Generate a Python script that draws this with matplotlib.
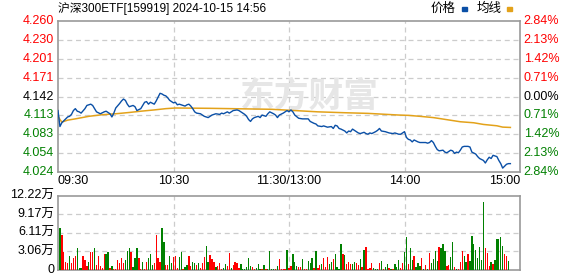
import numpy as np
import matplotlib
matplotlib.use("Agg")
import matplotlib.pyplot as plt
from matplotlib.patches import Rectangle

plt.rcParams['font.family'] = ['Liberation Sans', 'Noto Sans CJK SC']

# ============================= DATOS =================================
titulo = "沪深300ETF[159919] 2024-10-15 14:56"
cierre_ant = 4.142

precio_ticks = [4.260, 4.230, 4.201, 4.171, 4.142, 4.113, 4.083, 4.054, 4.024]
pct_ticks = ["2.84%", "2.13%", "1.42%", "0.71%", "0.00%", "0.71%", "1.42%", "2.13%", "2.84%"]
vol_ticks = [0, 3.06, 6.11, 9.17, 12.22]
vol_labels = ["0", "3.06万", "6.11万", "9.17万", "12.22万"]
hora_labels = ["09:30", "10:30", "11:30/13:00", "14:00", "15:00"]
hora_pos = [0, 60, 120, 180, 240]

# minuto desde 09:30 (sin pausa de mediodia) y precio
min_precio = [0, 1, 2, 4, 5, 6, 7, 8, 9, 10, 11, 12, 14, 15, 17, 18, 19, 20, 22, 24,
              25, 27, 28, 29, 30, 32, 33, 34, 35, 36, 37, 39, 40, 41, 43, 44, 45, 46, 47, 48,
              50, 51, 52, 53, 54, 55, 56, 57, 58, 60, 61, 62, 63, 65, 66, 67, 68, 69, 70, 71,
              72, 74, 75, 76, 78, 79, 80, 81, 82, 84, 85, 86, 88, 89, 90, 91, 93, 94, 95, 97,
              98, 99, 100, 101, 102, 104, 105, 106, 108, 109, 110, 112, 113, 114, 115, 117, 118, 119, 120, 121,
              122, 123, 125, 127, 129, 130, 131, 133, 134, 135, 137, 138, 139, 140, 142, 143, 144, 145, 146, 147,
              149, 150, 151, 152, 153, 155, 156, 157, 159, 160, 161, 162, 163, 165, 166, 167, 168, 170, 171, 172,
              174, 175, 176, 177, 178, 180, 181, 182, 183, 184, 185, 187, 188, 189, 191, 192, 193, 194, 195, 196,
              197, 198, 200, 201, 202, 204, 205, 206, 207, 208, 209, 210, 211, 213, 214, 215, 217, 218, 219, 221,
              222, 223, 224, 225, 226, 228, 229, 230, 231, 232, 233, 234, 235]
precio = [4.120, 4.095, 4.101, 4.107, 4.110, 4.111, 4.114, 4.120, 4.123, 4.119, 4.118, 4.116, 4.123, 4.128, 4.130, 4.128, 4.123, 4.118, 4.115, 4.118,
          4.119, 4.115, 4.110, 4.116, 4.124, 4.131, 4.135, 4.138, 4.136, 4.130, 4.126, 4.128, 4.126, 4.120, 4.123, 4.128, 4.133, 4.134, 4.130, 4.133,
          4.130, 4.135, 4.141, 4.147, 4.146, 4.144, 4.143, 4.140, 4.136, 4.132, 4.133, 4.129, 4.130, 4.128, 4.127, 4.129, 4.130, 4.127, 4.123, 4.118,
          4.116, 4.115, 4.113, 4.111, 4.109, 4.111, 4.113, 4.114, 4.115, 4.114, 4.116, 4.115, 4.118, 4.116, 4.118, 4.120, 4.121, 4.120, 4.118, 4.114,
          4.111, 4.106, 4.103, 4.107, 4.109, 4.111, 4.109, 4.113, 4.111, 4.115, 4.118, 4.115, 4.113, 4.109, 4.113, 4.116, 4.118, 4.120, 4.118, 4.121,
          4.118, 4.113, 4.108, 4.107, 4.107, 4.107, 4.103, 4.100, 4.099, 4.096, 4.095, 4.096, 4.095, 4.094, 4.095, 4.092, 4.097, 4.096, 4.092, 4.091,
          4.088, 4.085, 4.088, 4.087, 4.091, 4.087, 4.085, 4.084, 4.086, 4.084, 4.083, 4.085, 4.084, 4.087, 4.089, 4.092, 4.088, 4.087, 4.086, 4.085,
          4.084, 4.085, 4.084, 4.083, 4.083, 4.087, 4.078, 4.075, 4.074, 4.071, 4.074, 4.071, 4.070, 4.070, 4.070, 4.069, 4.070, 4.073, 4.070, 4.064,
          4.059, 4.057, 4.058, 4.055, 4.054, 4.058, 4.057, 4.053, 4.055, 4.054, 4.058, 4.063, 4.064, 4.064, 4.063, 4.055, 4.052, 4.048, 4.045, 4.042,
          4.038, 4.043, 4.047, 4.045, 4.050, 4.048, 4.042, 4.037, 4.030, 4.033, 4.036, 4.037, 4.037]

min_media = [0, 1, 2, 5, 9, 16, 23, 30, 37, 43, 50, 56, 61, 79, 111, 120, 135, 149, 161, 177,
             182, 188, 195, 200, 209, 216, 221, 228, 231, 235]
media = [4.112, 4.106, 4.102, 4.105, 4.107, 4.111, 4.1135, 4.115, 4.117, 4.119, 4.121, 4.123, 4.124, 4.1235, 4.122, 4.1205, 4.118, 4.1166, 4.1156, 4.113,
         4.1125, 4.111, 4.109, 4.1067, 4.1025, 4.1009, 4.0983, 4.0962, 4.0941, 4.0936]

# volumen (万) por minuto, 'r' sube / 'g' baja
volumen = [6.9, 5.8, 3.0, 1.4, 1.2, 2.3, 1.1, 1.9, 2.3, 3.7, 0.4, 0.4, 2.3, 1.7, 0.7, 1.4, 3.0, 3.0, 3.6, 0.8,
           2.3, 0.7, 0.4, 2.6, 2.6, 3.0, 0.3, 0.7, 0.1, 0.1, 1.7, 1.2, 1.9, 1.2, 1.7, 3.2, 3.7, 3.0, 0.5, 1.9,
           3.7, 1.9, 0.1, 1.4, 0.1, 1.4, 1.9, 2.6, 0.8, 1.2, 5.8, 1.9, 1.4, 6.9, 4.6, 0.8, 0.8, 2.3, 1.1, 2.1,
           2.3, 0.3, 2.1, 2.9, 0.1, 0.5, 0.8, 2.3, 0.7, 1.4, 1.1, 0.8, 1.2, 0.3, 1.2, 2.1, 3.9, 1.4, 2.5, 1.8,
           1.4, 0.5, 0.7, 1.1, 0.1, 0.3, 1.0, 0.7, 2.8, 0.4, 0.8, 1.4, 1.1, 0.3, 1.0, 0.1, 0.1, 0.5, 1.9, 0.7,
           0.5, 0.1, 0.3, 1.0, 0.2, 0.1, 0.8, 0.1, 0.1, 3.2, 0.1, 0.1, 0.1, 0.7, 1.8, 0.1, 0.1, 0.1, 3.3,
           0.3, 0.7, 2.6, 1.4, 0.7, 0.5, 0.5, 1.8, 0.1, 0.2, 1.5, 1.2, 2.0, 0.3, 3.1, 0.3, 0.8, 1.0, 2.0, 0.5,
           2.1, 1.0, 1.3, 1.8, 2.6, 0.5, 0.2, 4.3, 2.6, 2.5, 1.0, 1.3, 1.0, 1.0, 1.3, 1.2, 0.8, 1.8, 0.5, 3.3,
           3.8, 0.2, 0.3, 1.2, 0.3, 0.2, 0.2, 1.2, 1.5, 0.2, 0.5, 1.0, 0.3, 0.2, 0.2, 1.0, 0.5, 1.7, 0.3, 1.2,
           3.0, 5.4, 1.0, 3.6, 1.7, 2.3, 0.5, 1.2, 0.7, 2.0, 0.2, 0.8, 0.2, 2.8, 1.2, 1.8, 3.1, 1.5, 3.8, 3.6,
           4.3, 3.1, 0.7, 0.8, 2.1, 4.6, 0.5, 0.2, 0.2, 1.3, 3.1, 2.3, 1.3, 2.6, 1.5, 5.6, 4.3, 3.3, 2.0, 3.8,
           1.7, 11.2, 3.6, 2.8, 0.7, 1.3, 1.0, 1.7, 5.1, 5.1, 5.4, 4.0, 2.6, 2.3, 1.5]
color_vol = list("grrrrgrrrg" "ggrrrgrrgr" "rrrrggrgrr" "rrrrgggrgg"
                 "grrgrrgggr" "rrrggrrggr" "rrggrggrrg" "grgrrrggrr"
                 "rgrrrggrrg" "rrrrgggggg" "rrgggrgrgg" "ggrgrrrrg"
                 "rrgggrrgrr" "gggrgrrgrr" "rggrggggrg" "rrrggrrgrg"
                 "rrrrgggrgr" "ggrgrgggrr" "ggrggrgggr" "grgrggggrg"
                 "ggrrggrgrr" "rggrgggggg" "ggrrrgrggg" "ggrrg")

# ============================= FIGURA =================================
ROJO = "#FF0000"
VERDE = "#008000"
AZUL = "#0A4FA6"
NARANJA = "#E3A21A"
GRIS = "#999999"
REJILLA = "#CCCCCC"

fig = plt.figure(figsize=(5.78, 2.76), dpi=100)
ax = fig.add_axes([58 / 578, 1 - 171.7 / 276, 462 / 578, 150.4 / 276])
axv = fig.add_axes([58 / 578, 1 - 270 / 276, 462 / 578, 74 / 276])

# ---- precio ----
ymin = cierre_ant * (1 - 0.0284)
ymax = cierre_ant * (1 + 0.0284)
ax.set_xlim(0, 240)
ax.set_ylim(ymin, ymax)
for y in np.linspace(ymin, ymax, 9)[1:-1]:
    ax.axhline(y, color=REJILLA, lw=0.9, ls=(0, (4, 3)), zorder=1)
for x in [60, 120, 180]:
    ax.axvline(x, color=REJILLA, lw=0.9, ls=(0, (4, 3)), zorder=1)

ax.text(0.545, 0.5, "东方财富", transform=ax.transAxes, fontsize=25, fontweight='bold',
        color="#E6E6E6", ha='center', va='center', zorder=1)

ax.plot(min_media, media, color=NARANJA, lw=1.1, zorder=3)
ax.plot(min_precio, precio, color=AZUL, lw=1.0, zorder=4)

ax.set_xticks([])
ax.set_yticks([])
for s in ax.spines.values():
    s.set_color(GRIS)
    s.set_linewidth(1.2)

# etiquetas eje izquierdo y derecho
niveles = np.linspace(ymax, ymin, 9)
for i, (y, lab, pct) in enumerate(zip(niveles, precio_ticks, pct_ticks)):
    col = ROJO if i < 4 else ("#000000" if i == 4 else VERDE)
    ax.text(-0.008, (y - ymin) / (ymax - ymin), f"{lab:.3f}", transform=ax.transAxes,
            ha='right', va='center', fontsize=9, color=col)
    ax.text(1.008, (y - ymin) / (ymax - ymin), pct, transform=ax.transAxes,
            ha='left', va='center', fontsize=9, color=col)

# horas
for i, (h, p) in enumerate(zip(hora_labels, hora_pos)):
    ha = 'left' if i == 0 else ('right' if i == len(hora_labels) - 1 else 'center')
    ax.text(p / 240, -0.065, h, transform=ax.transAxes, ha=ha, va='center', fontsize=9, color="#000000")

# ---- volumen ----
x_vol = np.arange(len(volumen)) + 1
cols = [ROJO if c == 'r' else VERDE for c in color_vol[:len(volumen)]]
axv.set_xlim(0, 240)
axv.set_ylim(0, vol_ticks[-1])
for y in vol_ticks[1:-1]:
    axv.axhline(y, color=REJILLA, lw=0.9, ls=(0, (4, 3)), zorder=1)
for x in [60, 120, 180]:
    axv.axvline(x, color=REJILLA, lw=0.9, ls=(0, (4, 3)), zorder=1)
axv.bar(x_vol, volumen, width=0.7, color=cols, zorder=3, linewidth=0)
axv.set_xticks([])
axv.set_yticks([])
for s in axv.spines.values():
    s.set_color(GRIS)
    s.set_linewidth(1.2)
for y, lab in zip(vol_ticks, vol_labels):
    axv.text(-0.008, y / vol_ticks[-1], lab, transform=axv.transAxes,
             ha='right', va='center', fontsize=9, color="#000000")

# ---- titulo y leyenda ----
fig.text(58 / 578, 1 - 9 / 276, titulo, ha='left', va='center', fontsize=8.5, color="#000000")
fig.text(431 / 578, 1 - 9 / 276, "价格", ha='left', va='center', fontsize=9, color="#000000")
fig.text(477 / 578, 1 - 9 / 276, "均线", ha='left', va='center', fontsize=9, color="#000000")
fig.patches.append(Rectangle((462 / 578, 1 - 10.5 / 276), 5 / 578, 3 / 276,
                             transform=fig.transFigure, color=AZUL, figure=fig))
fig.patches.append(Rectangle((507 / 578, 1 - 10.5 / 276), 5 / 578, 3 / 276,
                             transform=fig.transFigure, color=NARANJA, figure=fig))

fig.savefig("out.png", dpi=100)
